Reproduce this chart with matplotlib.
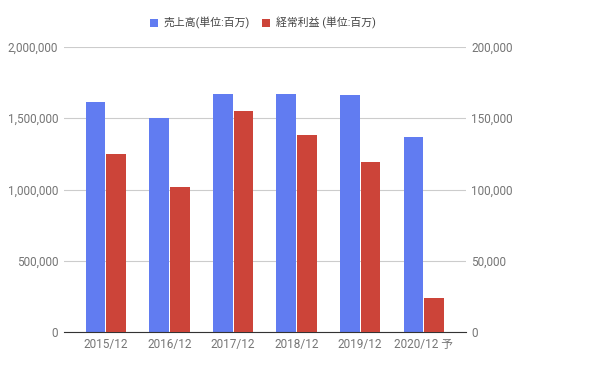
import numpy as np
import matplotlib
matplotlib.use('Agg')
import matplotlib.pyplot as plt
from matplotlib.ticker import FuncFormatter

plt.rcParams['font.family'] = ['Roboto', 'Noto Sans CJK JP', 'DejaVu Sans']

years = ['2015/12', '2016/12', '2017/12', '2018/12', '2019/12', '2020/12 予']
sales = [1613000, 1501000, 1669000, 1669000, 1662000, 1367000]
profit = [124800, 101700, 155000, 138100, 119200, 23800]
sales_label = '売上高(単位:百万)'
profit_label = '経常利益 (単位:百万)'

blue = '#617CF1'
red = '#CC4439'
grey = '#757575'

fig = plt.figure(figsize=(5.93, 3.69), dpi=100)
ax = fig.add_axes([0.108, 0.0995, 0.677, 0.7735])
ax2 = ax.twinx()

x = np.arange(len(years))
w = 0.308
ax.bar(x - w / 2 - 0.008, sales, width=w, color=blue, label=sales_label, zorder=3)
ax2.bar(x + w / 2 + 0.008, profit, width=w, color=red, label=profit_label, zorder=3)

ax.set_xlim(-0.66, len(years) - 0.34)
ax.set_ylim(0, 2000000)
ax2.set_ylim(0, 200000)
ax.set_yticks(np.arange(0, 2000001, 500000))
ax2.set_yticks(np.arange(0, 200001, 50000))
fmt = FuncFormatter(lambda v, p: f'{int(v):,}')
ax.yaxis.set_major_formatter(fmt)
ax2.yaxis.set_major_formatter(fmt)

ax.set_xticks(x)
ax.set_xticklabels(years)

ax.grid(axis='y', color='#cccccc', linewidth=0.8, zorder=0)
ax.set_axisbelow(True)
for a in (ax, ax2):
    for s in a.spines.values():
        s.set_visible(False)
    a.tick_params(length=0, colors=grey, labelsize=8.5)
ax.spines['bottom'].set_visible(True)
ax.spines['bottom'].set_color('#333333')
ax.spines['bottom'].set_zorder(5)
ax.tick_params(axis='y', pad=4.3)
ax2.tick_params(axis='y', pad=4)
ax.tick_params(axis='x', pad=4)

h1, l1 = ax.get_legend_handles_labels()
h2, l2 = ax2.get_legend_handles_labels()
fig.legend(h1 + h2, l1 + l2, loc='center', bbox_to_anchor=(0.443, 0.938), ncol=2,
           frameon=False, fontsize=7.8, handlelength=0.75, handleheight=0.75,
           columnspacing=1.1, handletextpad=0.55, labelcolor='#444444')

fig.savefig('out.png', dpi=100)
